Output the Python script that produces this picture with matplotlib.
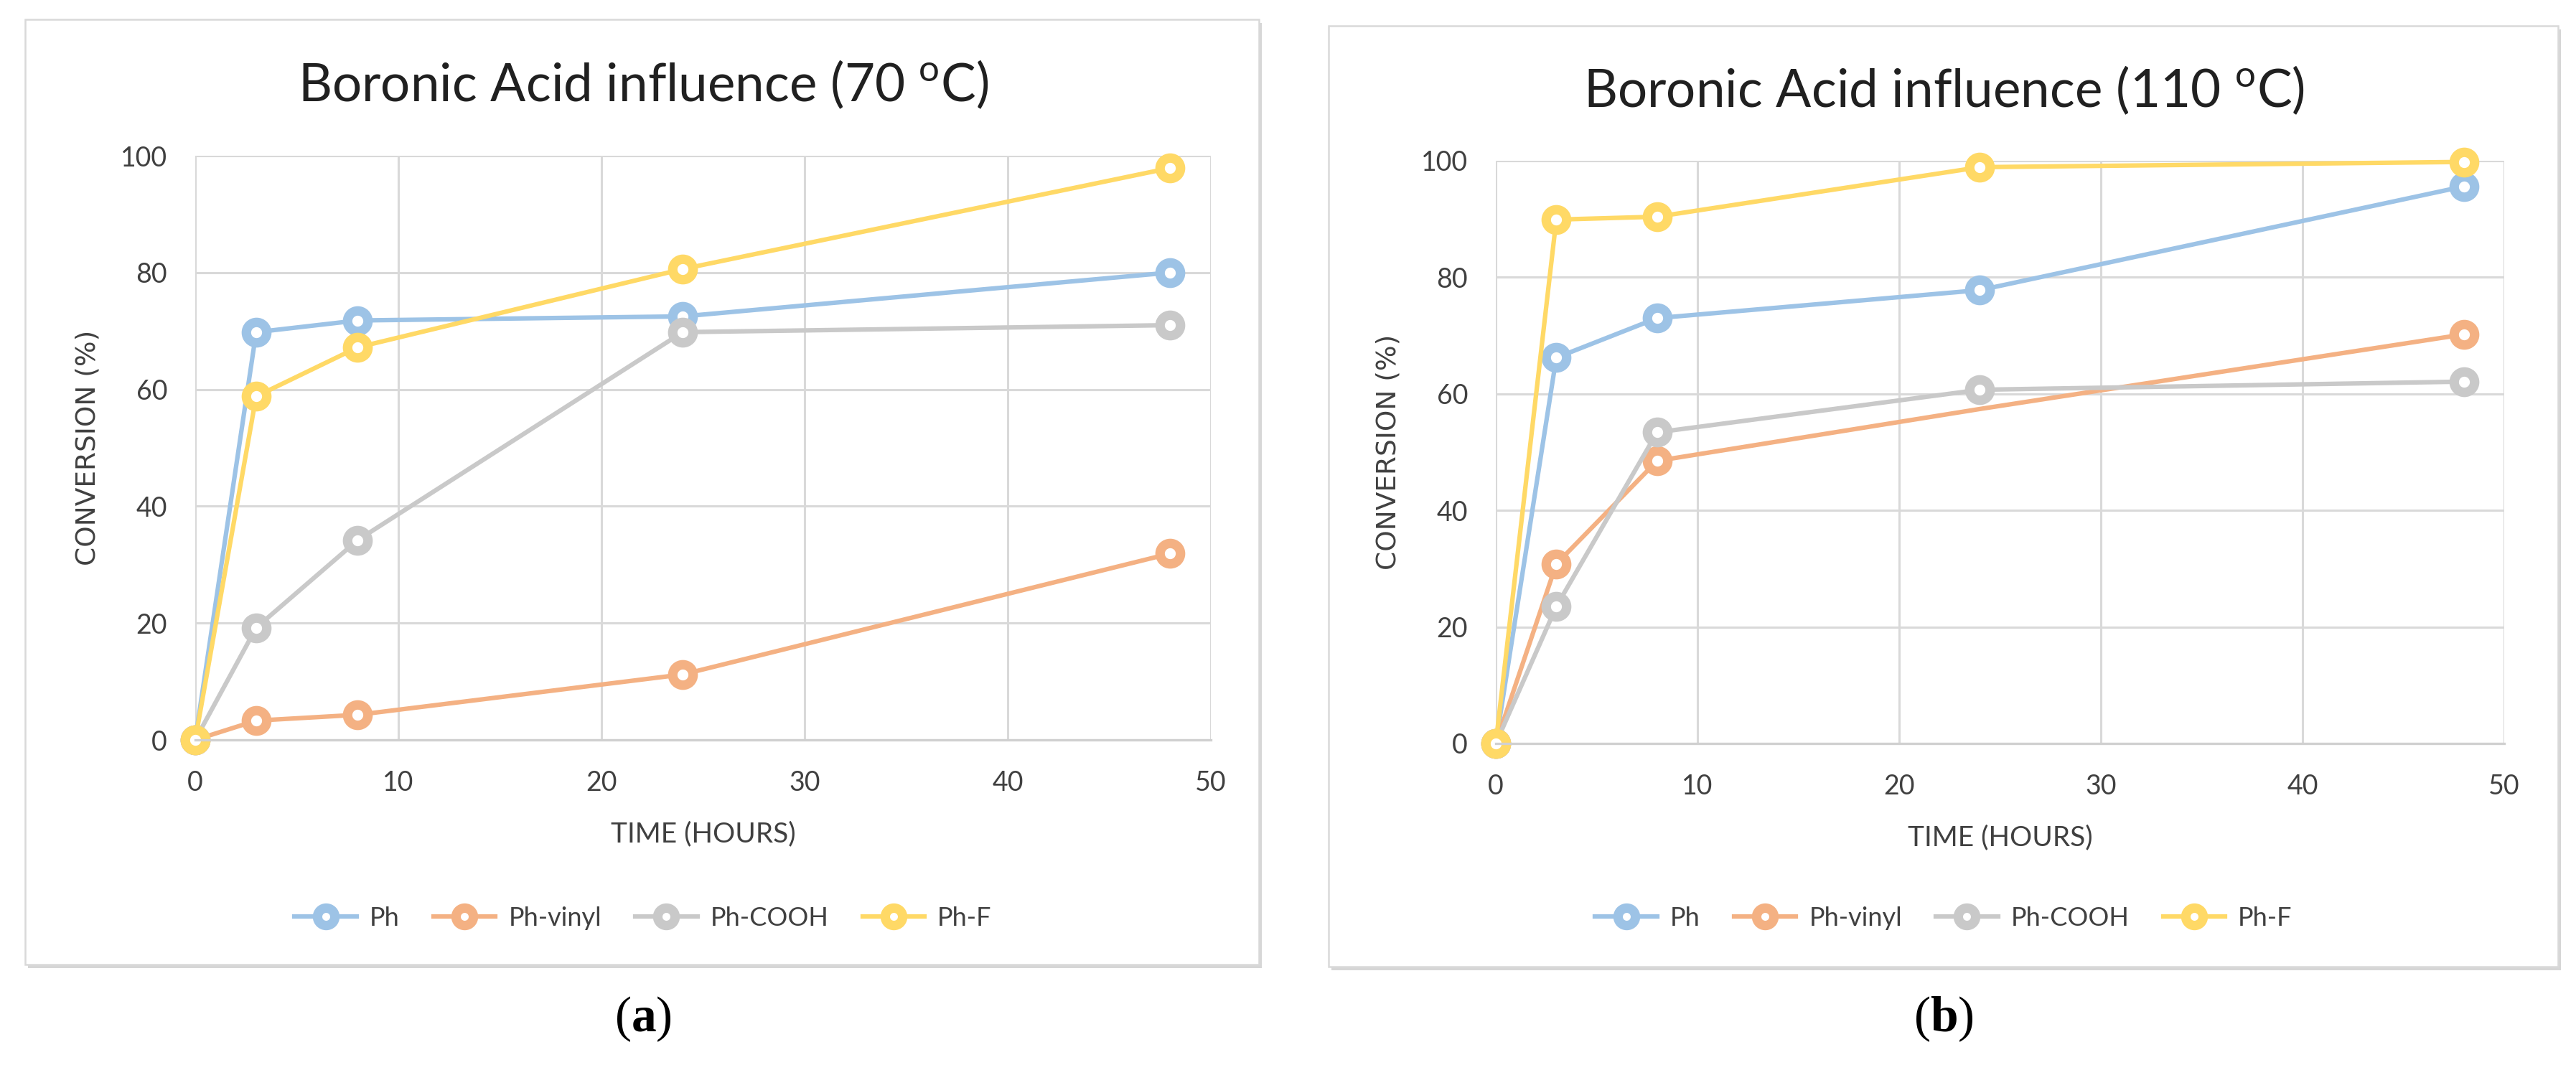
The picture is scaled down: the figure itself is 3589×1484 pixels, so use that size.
import matplotlib
matplotlib.use("Agg")
import matplotlib.pyplot as plt
from matplotlib.patches import Rectangle

# data
time_h = [0, 3, 8, 24, 48]
series_names = ["Ph", "Ph-vinyl", "Ph-COOH", "Ph-F"]
colors = ["#9DC3E6", "#F4B183", "#C9C9C9", "#FFD966"]

ph_70 = [0, 69.8, 71.8, 72.5, 80.0]
vinyl_70 = [0, 3.3, 4.3, 11.2, 31.9]
cooh_70 = [0, 19.2, 34.2, 69.8, 71.0]
f_70 = [0, 58.8, 67.2, 80.6, 97.9]

ph_110 = [0, 66.2, 73.0, 77.8, 95.6]
vinyl_110 = [0, 30.8, 48.5, 57.4, 70.2]
cooh_110 = [0, 23.5, 53.4, 60.7, 62.1]
f_110 = [0, 89.9, 90.4, 98.9, 99.8]

fonts = ["Lato", "DejaVu Sans"]
plt.rcParams["font.family"] = fonts
plt.rcParams["mathtext.fontset"] = "custom"
plt.rcParams["mathtext.rm"] = fonts[0]
plt.rcParams["mathtext.bf"] = "Liberation Serif:bold"

W, H = 3589, 1484
fig = plt.figure(figsize=(W / 100, H / 100), dpi=100)


def px(x, y):
    return x / W, 1 - y / H


def frame(x0, y0, x1, y1):
    # light chart-area border with a soft shadow at the bottom and right
    fig.patches.append(Rectangle(px(x0 + 4, y1 + 5), (x1 - x0) / W, (y1 - y0) / H,
                                 transform=fig.transFigure, facecolor="#D6D6D6",
                                 edgecolor="none", zorder=-6))
    fig.patches.append(Rectangle(px(x0, y1), (x1 - x0) / W, (y1 - y0) / H,
                                 transform=fig.transFigure, facecolor="white",
                                 edgecolor="#D9D9D9", linewidth=1.8, zorder=-5))


def panel(rect, data, title, title_y, cx, letter, skip_vinyl):
    ax = fig.add_axes(rect)
    for vals, name, c in zip(data, series_names, colors):
        every = [0, 1, 2, 4] if (skip_vinyl and name == "Ph-vinyl") else None
        ax.plot(time_h, vals, color=c, lw=4.5, marker="o", ms=20.5, mew=9.5,
                mfc="white", mec=c, label=name, clip_on=False, markevery=every)
    ax.set_xlim(0, 50)
    ax.set_ylim(0, 100)
    ax.set_xticks(range(0, 51, 10))
    ax.set_yticks(range(0, 101, 20))
    ax.grid(True, color="#D9D9D9", lw=2.2)
    ax.set_axisbelow(True)
    for s in ["top", "right", "left"]:
        ax.spines[s].set_visible(False)
    ax.spines["bottom"].set_color("#D0D0D0")
    ax.spines["bottom"].set_linewidth(2.4)
    ax.tick_params(length=0, labelsize=27, colors="#404040", pad=30)
    ax.tick_params(axis="y", pad=28)
    ax.set_xlabel("TIME (HOURS)", fontsize=28, color="#404040", labelpad=26)
    ax.set_ylabel("CONVERSION (%)", fontsize=27, color="#404040",
                  family=["DejaVu Sans"], labelpad=20)
    fig.text(*px(cx, title_y), title, fontsize=52.5, color="#202020",
             ha="center", va="center")
    x_leg = (cx / W - rect[0]) / rect[2]
    y_leg = (1 - 1279 / H - rect[1]) / rect[3]
    ax.legend(loc="center", bbox_to_anchor=(x_leg, y_leg),
              ncol=4, frameon=False, fontsize=26, handlelength=2.4,
              columnspacing=1.3, handletextpad=0.5, markerscale=0.85,
              labelcolor="#404040")
    fig.text(*px(cx, 1420), letter, fontsize=50, family=["Liberation Serif", "DejaVu Serif"],
             ha="center", va="center")
    return ax


frame(35, 27, 1754, 1344)
frame(1851, 36, 3564, 1347)

panel([272 / W, 1 - 1031 / H, (1687 - 272) / W, (1031 - 217) / H],
      [ph_70, vinyl_70, cooh_70, f_70],
      r"Boronic Acid influence (70 $^{\rm o}$C)", 118, 896, r"($\mathbf{a}$)", False)
panel([2084 / W, 1 - 1036 / H, (3489 - 2084) / W, (1036 - 224) / H],
      [ph_110, vinyl_110, cooh_110, f_110],
      r"Boronic Acid influence (110 $^{\rm o}$C)", 126, 2708, r"($\mathbf{b}$)", True)

fig.savefig("out.png", dpi=100)
